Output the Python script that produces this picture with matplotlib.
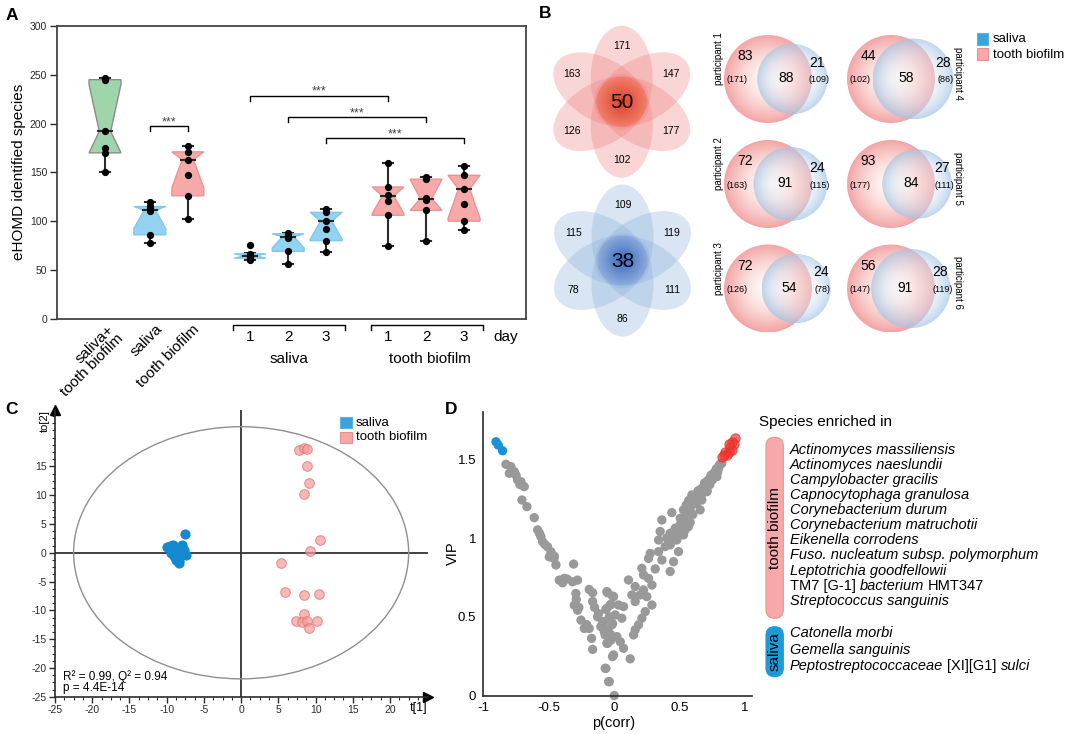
import numpy as np
import matplotlib
matplotlib.use('Agg')
import matplotlib.pyplot as plt
import matplotlib.colors as mcolors
import matplotlib.transforms as mtransforms
from matplotlib.patches import Ellipse, Circle, FancyBboxPatch, Rectangle, Polygon
from matplotlib.ticker import AutoMinorLocator

plt.rcParams['font.family'] = ['Liberation Sans', 'DejaVu Sans']
plt.rcParams['axes.unicode_minus'] = False

# ====================== DATA ======================
# ---- Panel A: eHOMD identified species ----
a_cat_labels = ['saliva+\ntooth biofilm', 'saliva', 'tooth biofilm']
a_day_labels = ['1', '2', '3']
a_group_labels = ['saliva', 'tooth biofilm']
a_kind = ['both', 'saliva', 'tooth', 'saliva', 'saliva', 'saliva', 'tooth', 'tooth', 'tooth']
a_points = [
    [247, 245, 192, 175, 170, 150],
    [120, 115, 113, 110, 86, 78],
    [177, 171, 163, 147, 126, 102],
    [76, 66, 65, 63, 62, 60],
    [88, 87, 85, 83, 69, 56],
    [112, 109, 100, 92, 80, 68],
    [160, 135, 127, 121, 106, 75],
    [145, 143, 124, 122, 111, 80],
    [156, 147, 133, 118, 100, 91],
]
a_q1 = [170, 86, 126, 62, 69, 80, 106, 111, 100]
a_med = [192, 111, 163, 64.5, 84, 100, 126, 123, 133]
a_q3 = [245, 115, 171, 66.5, 87, 109, 135, 143, 147]
a_lo = [150, 78, 102, 60, 56, 68, 75, 80, 91]
a_hi = [247, 120, 177, 67, 88, 112, 160, 145, 156]
a_sig_pairs = [(1, 2), (3, 6), (4, 7), (5, 8)]
a_sig_heights = [197, 228.5, 206.5, 185]
a_sig_text = '***'

# ---- Panel B: Venn diagrams ----
flower_tooth_petals = [171, 147, 177, 102, 126, 163]   # top, upper-right, lower-right, bottom, lower-left, upper-left
flower_tooth_core = 50
flower_saliva_petals = [109, 119, 111, 86, 78, 115]
flower_saliva_core = 38
venn_participants = ['participant 1', 'participant 2', 'participant 3',
                     'participant 4', 'participant 5', 'participant 6']
venn_tooth_only = [83, 72, 72, 44, 93, 56]
venn_shared = [88, 91, 54, 58, 84, 91]
venn_saliva_only = [21, 24, 24, 28, 27, 28]
legend_labels = ['saliva', 'tooth biofilm']

# ---- Panel C: OPLS-DA scores ----
c_saliva_t1 = [-7.5, -10.0, -9.2, -8.0, -7.9, -9.4, -9.0, -8.8, -8.4, -8.1, -7.4, -8.6, -9.6, -8.9, -8.3, -7.7, -9.1, -8.5]
c_saliva_to2 = [3.3, 1.0, 1.3, 1.3, 1.0, -0.1, -0.6, -1.2, -1.8, -0.4, -0.4, 0.3, 1.2, 0.8, -1.5, 0.5, 0.0, -0.9]
c_tooth_t1 = [7.8, 8.4, 8.9, 8.9, 9.1, 8.5, 10.6, 9.3, 5.3, 5.9, 8.5, 10.4, 8.4, 7.4, 8.2, 8.9, 10.2, 9.1]
c_tooth_to2 = [17.9, 18.2, 18.0, 15.1, 12.2, 10.2, 2.2, 0.3, -1.7, -6.8, -7.3, -7.1, -10.6, -11.8, -12.0, -11.8, -11.8, -13.0]
c_stats = ['R\u00b2 = 0.99, Q\u00b2 = 0.94', 'p = 4.4E-14']

# ---- Panel D: VIP vs p(corr) ----
d_gray = [
    (-0.827, 1.469), (-0.789, 1.454), (-0.801, 1.412), (-0.763, 1.422), (-0.738, 1.369), (-0.712, 1.358),
    (-0.687, 1.327), (-0.750, 1.400), (-0.720, 1.340), (-0.705, 1.242), (-0.667, 1.200), (-0.611, 1.130),
    (-0.585, 1.052), (-0.570, 1.030), (-0.560, 1.009), (-0.547, 0.977), (-0.530, 0.960), (-0.509, 0.945),
    (-0.483, 0.913), (-0.496, 0.881), (-0.458, 0.885), (-0.460, 0.870), (-0.445, 0.829), (-0.310, 0.835),
    (-0.420, 0.733), (-0.382, 0.744), (-0.394, 0.716), (-0.400, 0.730), (-0.360, 0.740), (-0.318, 0.722),
    (-0.280, 0.733), (-0.293, 0.648), (-0.290, 0.610), (-0.305, 0.574), (-0.280, 0.542), (-0.270, 0.560),
    (-0.191, 0.674), (-0.165, 0.653), (-0.165, 0.597), (-0.254, 0.479), (-0.229, 0.426), (-0.210, 0.450),
    (-0.191, 0.426), (-0.173, 0.363), (-0.165, 0.293), (-0.150, 0.560), (-0.127, 0.500), (-0.120, 0.520),
    (-0.102, 0.437), (-0.090, 0.460), (-0.076, 0.405), (-0.051, 0.653), (-0.013, 0.632), (-0.064, 0.547),
    (-0.025, 0.579), (-0.038, 0.500), (-0.013, 0.458), (-0.050, 0.420), (-0.030, 0.390), (-0.051, 0.331),
    (-0.025, 0.352), (-0.013, 0.247), (-0.064, 0.172), (-0.038, 0.088), (0.000, 0.000),
    (0.822, 1.475), (0.797, 1.443), (0.771, 1.422), (0.784, 1.390), (0.733, 1.380), (0.708, 1.359),
    (0.682, 1.327), (0.708, 1.295), (0.656, 1.284), (0.631, 1.252), (0.593, 1.274), (0.669, 1.242),
    (0.618, 1.221), (0.567, 1.231), (0.580, 1.200), (0.656, 1.179), (0.529, 1.179), (0.440, 1.162),
    (0.555, 1.147), (0.504, 1.126), (0.364, 1.115), (0.567, 1.073), (0.504, 1.084), (0.466, 1.063),
    (0.351, 1.042), (0.427, 1.031), (0.529, 1.020), (0.402, 1.000), (0.339, 0.988), (0.478, 0.988),
    (0.427, 0.957), (0.389, 0.946), (0.491, 0.914), (0.275, 0.903), (0.339, 0.914), (0.262, 0.871),
    (0.364, 0.861), (0.453, 0.850), (0.313, 0.804), (0.211, 0.808), (0.427, 0.788), (0.224, 0.766),
    (0.262, 0.744), (0.288, 0.702), (0.109, 0.734), (0.160, 0.692), (0.224, 0.671), (0.198, 0.639),
    (0.135, 0.639), (0.249, 0.628), (0.160, 0.597), (0.288, 0.575), (-0.056, 0.660), (-0.005, 0.628),
    (-0.030, 0.575), (0.033, 0.575), (-0.056, 0.554), (0.071, 0.565), (0.008, 0.512), (0.058, 0.491),
    (-0.081, 0.470), (-0.018, 0.449), (0.237, 0.533), (0.211, 0.491), (0.186, 0.449), (0.160, 0.417),
    (0.148, 0.385), (-0.069, 0.385), (0.020, 0.374), (-0.056, 0.332), (0.046, 0.342), (0.071, 0.300),
    (-0.005, 0.258), (0.122, 0.233), (-0.069, 0.173), (-0.043, 0.088),
    (0.620, 1.260), (0.640, 1.300), (0.660, 1.310), (0.690, 1.350), (0.720, 1.370), (0.740, 1.400),
    (0.760, 1.410), (0.780, 1.440), (0.800, 1.460), (0.810, 1.470), (0.600, 1.220), (0.580, 1.190),
    (0.550, 1.160), (0.530, 1.120), (0.520, 1.100), (0.500, 1.060), (0.480, 1.030), (0.460, 1.000),
    (0.440, 0.980), (0.550, 1.210), (0.570, 1.240), (0.610, 1.270), (0.630, 1.220), (0.650, 1.250),
    (0.670, 1.280), (0.700, 1.320), (0.710, 1.300), (0.730, 1.340), (0.750, 1.370), (0.770, 1.420),
    (0.790, 1.420), (0.600, 1.150), (0.580, 1.100), (0.560, 1.080), (0.540, 1.050), (0.520, 1.030),
]
d_red = [(0.924, 1.634), (0.898, 1.613), (0.911, 1.596), (0.886, 1.581), (0.898, 1.560), (0.873, 1.549),
         (0.847, 1.549), (0.860, 1.528), (0.835, 1.528), (0.822, 1.517), (0.880, 1.600)]
d_blue = [(-0.903, 1.612), (-0.886, 1.591), (-0.853, 1.555)]
d_tooth_species = [
    [('Actinomyces massiliensis', 'italic')],
    [('Actinomyces naeslundii', 'italic')],
    [('Campylobacter gracilis', 'italic')],
    [('Capnocytophaga granulosa', 'italic')],
    [('Corynebacterium durum', 'italic')],
    [('Corynebacterium matruchotii', 'italic')],
    [('Eikenella corrodens', 'italic')],
    [('Fuso. nucleatum subsp. polymorphum', 'italic')],
    [('Leptotrichia goodfellowii', 'italic')],
    [('TM7 [G-1]', 'normal'), ('bacterium', 'italic'), ('HMT347', 'normal')],
    [('Streptococcus sanguinis', 'italic')],
]
d_saliva_species = [
    [('Catonella morbi', 'italic')],
    [('Gemella sanguinis', 'italic')],
    [('Peptostreptococcaceae', 'italic'), ('[XI][G1]', 'normal'), ('sulci', 'italic')],
]

# ====================== FIGURE ======================
W, H = 1084, 734
fig = plt.figure(figsize=(W / 100, H / 100), dpi=100)


def rect(x0, y0, x1, y1):
    return [x0 / W, 1 - y1 / H, (x1 - x0) / W, (y1 - y0) / H]


SAL = '#3aa3dc'
TOO_F = '#f5a8a8'
TOO_E = '#ee8e8e'
DARK = '#2b2b2b'

# ---------------- Panel A ----------------
axA = fig.add_axes(rect(57, 26, 526, 318.7))
posA = [1.25, 2.43, 3.43, 5.07, 6.07, 7.07, 8.7, 9.7, 10.7]
fills = {'both': '#9fd5ab', 'saliva': '#93d2f0', 'tooth': '#f5a9a9'}
edges = {'both': '#8c8c8c', 'saliva': '#80c8ee', 'tooth': '#ee9292'}
hw, nw, cw = 0.42, 0.15, 0.14
for i, x in enumerate(posA):
    q1, med, q3, lo, hi = a_q1[i], a_med[i], a_q3[i], a_lo[i], a_hi[i]
    n = len(a_points[i])
    half = 1.57 * (q3 - q1) / np.sqrt(n)
    lo_n = min(max(med - half, q1), med)
    hi_n = max(min(med + half, q3), med)
    k = a_kind[i]
    axA.plot([x, x], [lo, hi], color=DARK, lw=1.5, zorder=1)
    axA.plot([x - cw, x + cw], [lo, lo], color=DARK, lw=1.5, zorder=1)
    axA.plot([x - cw, x + cw], [hi, hi], color=DARK, lw=1.5, zorder=1)
    verts = [(x - hw, q1), (x + hw, q1), (x + hw, lo_n), (x + nw, med), (x + hw, hi_n), (x + hw, q3),
             (x - hw, q3), (x - hw, hi_n), (x - nw, med), (x - hw, lo_n)]
    axA.add_patch(Polygon(verts, closed=True, facecolor=fills[k], edgecolor=edges[k], lw=1.0, zorder=2))
    axA.plot([x - nw - 0.03, x + nw + 0.03], [med, med], color=DARK, lw=1.5, zorder=3)
    axA.plot([x] * n, a_points[i], 'o', color='black', ms=4.2, zorder=4)

for (i, j), h in zip(a_sig_pairs, a_sig_heights):
    x1, x2 = posA[i], posA[j]
    axA.plot([x1, x1, x2, x2], [h - 5, h, h, h - 5], color='black', lw=1.0)
    axA.text((x1 + x2) / 2, h + 1, a_sig_text, ha='center', va='baseline', fontsize=9, color='#444444')

axA.set_xlim(-0.013, 12.33)
axA.set_ylim(0, 300)
axA.set_yticks(np.arange(0, 301, 50))
axA.set_xticks([])
axA.tick_params(axis='y', direction='out', length=5, width=1, labelsize=7.5, pad=2, colors=DARK)
for s in axA.spines.values():
    s.set_color('#444444')
    s.set_linewidth(1.3)
fig.text(19 / W, 1 - 172 / H, 'eHOMD identified species', rotation=90, ha='center', va='center', fontsize=11)

transA = mtransforms.blended_transform_factory(axA.transData, axA.transAxes)


def ya(py):
    return (318.7 - py) / 292.7


# rotated category labels
rot_anchor_px = [(107, 322), (155, 322), (192, 322)]
for lab, (px, py) in zip(a_cat_labels, rot_anchor_px):
    fig.text(px / W, 1 - py / H, lab, rotation=45, rotation_mode='anchor', ha='right', va='top',
             fontsize=11, multialignment='right', linespacing=0.95)

# day groups
for g, (i0, i1) in enumerate([(3, 5), (6, 8)]):
    xa, xb = posA[i0] - 0.45, posA[i1] + 0.5
    axA.plot([xa, xa, xb, xb], [ya(330), ya(325), ya(325), ya(330)], color='black', lw=1.0,
             transform=transA, clip_on=False)
    for k, lab in enumerate(a_day_labels):
        axA.text(posA[i0 + k], ya(337), lab, transform=transA, ha='center', va='center', fontsize=11)
    axA.text(posA[i0 + 1] + (0.1 if g == 1 else 0.03), ya(359), a_group_labels[g], transform=transA,
             ha='center', va='center', fontsize=11)
axA.text(11.47, ya(337), 'day', transform=transA, ha='left', va='center', fontsize=11)

# ---------------- Panel C ----------------
axC = fig.add_axes(rect(55, 410, 428, 696.7))
axC.set_xlim(-25, 25.1)
axC.set_ylim(-25, 24.8)
axC.spines['top'].set_visible(False)
axC.spines['right'].set_visible(False)
for s in ['left', 'bottom']:
    axC.spines[s].set_color(DARK)
    axC.spines[s].set_linewidth(1.2)
axC.set_xticks(np.arange(-25, 21, 5))
axC.set_yticks(np.arange(-25, 16, 5))
axC.xaxis.set_minor_locator(AutoMinorLocator(4))
axC.yaxis.set_minor_locator(AutoMinorLocator(4))
axC.tick_params(which='major', direction='out', length=4, width=1, labelsize=7.5, pad=2, colors=DARK)
axC.tick_params(which='minor', direction='out', length=2.5, width=0.8, colors=DARK)
axC.plot(1, 0, marker='>', color='black', ms=7, transform=axC.transAxes, clip_on=False)
axC.plot(0, 1, marker='^', color='black', ms=7, transform=axC.transAxes, clip_on=False)
axC.axhline(0, color='#333333', lw=1.3, zorder=1)
axC.axvline(0, color='#333333', lw=1.3, zorder=1)
axC.add_patch(Ellipse((0, 0), 45, 43.8, fill=False, edgecolor='#8f8f8f', lw=1.0, zorder=1))
axC.scatter(c_saliva_t1, c_saliva_to2, s=40, color='#1589cf', edgecolor='#1589cf', zorder=3)
axC.scatter(c_tooth_t1, c_tooth_to2, s=48, facecolor='#f39c9c', edgecolor='#e56e6e', alpha=0.7,
            linewidth=0.8, zorder=3)

# ---------------- Panel D ----------------
axD = fig.add_axes(rect(483.3, 411.7, 751.7, 695.5))
axD.set_xlim(-1, 1.05)
axD.set_ylim(0, 1.803)
axD.spines['top'].set_visible(False)
axD.spines['right'].set_visible(False)
for s in ['left', 'bottom']:
    axD.spines[s].set_color(DARK)
    axD.spines[s].set_linewidth(1.2)
axD.set_xticks([-1, -0.5, 0, 0.5, 1])
axD.set_xticklabels(['-1', '-0.5', '0', '0.5', '1'])
axD.set_yticks([0, 0.5, 1, 1.5])
axD.set_yticklabels(['0', '0.5', '1', '1.5'])
axD.tick_params(length=0, labelsize=9.5, pad=5)
gx, gy = zip(*d_gray)
axD.scatter(gx, gy, s=45, color='#999999', edgecolor='none', zorder=2, clip_on=False)
rx, ry = zip(*d_red)
axD.scatter(rx, ry, s=45, facecolor='#ef3b36', edgecolor='#e52f2a', alpha=0.7, lw=0.8, zorder=3, clip_on=False)
bx_, by_ = zip(*d_blue)
axD.scatter(bx_, by_, s=45, color='#1a90d8', edgecolor='none', zorder=3, clip_on=False)

# ---------------- Overlay (pixel coordinates) ----------------
ov = fig.add_axes([0, 0, 1, 1])
ov.set_axis_off()


def ftxt(x, y, s, **kw):
    kw.setdefault('ha', 'center')
    kw.setdefault('va', 'center')
    return ov.text(x, y, s, **kw)


def grad_circle(cx, cy, r, c_in, c_out, a_in, a_out, power=1.0, z=2):
    n = 160
    g = np.linspace(-1, 1, n)
    xx, yy = np.meshgrid(g, g)
    t = np.clip(np.hypot(xx, yy), 0, 1) ** power
    cin = np.array(mcolors.to_rgb(c_in))
    cout = np.array(mcolors.to_rgb(c_out))
    img = np.empty((n, n, 4))
    img[..., :3] = cin * (1 - t)[..., None] + cout * t[..., None]
    img[..., 3] = a_in * (1 - t) + a_out * t
    im = ov.imshow(img, extent=(cx - r, cx + r, cy + r, cy - r), interpolation='bilinear', zorder=z)
    im.set_clip_path(Circle((cx, cy), r, transform=ov.transData))
    return im


# Panel B flowers
petal_angles = [90, 30, -30, -90, -150, 150]


def flower(cx, cy, petals, core, pcol, palpha, core_in, core_out):
    for ang, val in zip(petal_angles, petals):
        th = np.deg2rad(ang)
        ov.add_patch(Ellipse((cx + 24 * np.cos(th), cy - 24 * np.sin(th)), 104, 62, angle=-ang,
                             facecolor=pcol, alpha=palpha, lw=0, zorder=2))
        ftxt(cx + 57 * np.cos(th), cy - 57 * np.sin(th) + 1, str(val), fontsize=7.5, zorder=6)
    grad_circle(cx, cy, 25, core_in, core_out, 0.95, 0.75, power=1.3, z=3)
    ftxt(cx, cy + 1, str(core), fontsize=15, zorder=6)


flower(621.7, 101.7, flower_tooth_petals, flower_tooth_core, '#f08080', 0.33, '#e0412b', '#f07a60')
flower(622.5, 260.5, flower_saliva_petals, flower_saliva_core, '#8cb0dc', 0.33, '#3c6bbf', '#8aa6da')

# Panel B pairwise venns
col_cx = [768, 768, 768, 891, 891, 891]
row_cy = [79, 184, 288.5, 79, 184, 288.5]
for i in range(6):
    t_tot = venn_tooth_only[i] + venn_shared[i]
    s_tot = venn_saliva_only[i] + venn_shared[i]
    pcx, cy = col_cx[i], row_cy[i]
    rp = 44
    rb = rp * np.sqrt(s_tot / t_tot)
    d = 47 - 44 * venn_shared[i] / t_tot
    bcx = pcx + d
    grad_circle(pcx, cy, rp, '#fffaf7', '#f29b9b', 0.9, 0.9, power=1.6, z=2)
    grad_circle(bcx, cy, rb, '#ffffff', '#a3c4e6', 0.2, 0.7, power=1.4, z=3)
    lens_c = ((bcx - rb) + (pcx + rp)) / 2
    ftxt(pcx - 23, cy - 23, str(venn_tooth_only[i]), fontsize=10, zorder=6)
    ftxt(pcx - 31, cy + 1, '(%d)' % t_tot, fontsize=6.5, zorder=6)
    ftxt(lens_c + 2, cy - 1, str(venn_shared[i]), fontsize=10, zorder=6)
    ftxt(bcx + rb - 10, cy - 16, str(venn_saliva_only[i]), fontsize=10, zorder=6)
    ftxt(bcx + rb - 8, cy + 1, '(%d)' % s_tot, fontsize=6.5, zorder=6)
    if i < 3:
        ftxt(719, cy - 20, venn_participants[i], rotation=90, fontsize=7, zorder=6)
    else:
        ftxt(958, cy - 6, venn_participants[i], rotation=270, fontsize=7, zorder=6)

# Panel B legend
ov.add_patch(Rectangle((977.3, 33.3), 11, 11.7, facecolor=SAL, edgecolor='#5ab4e6', lw=0.8, zorder=5))
ov.add_patch(Rectangle((977.3, 48.3), 11, 11.7, facecolor=TOO_F, edgecolor=TOO_E, lw=0.8, zorder=5))
ftxt(993, 39.5, legend_labels[0], ha='left', fontsize=9.5)
ftxt(993, 54.5, legend_labels[1], ha='left', fontsize=9.5)

# Panel C legend & texts
ov.add_patch(Rectangle((340, 417), 11.7, 11, facecolor=SAL, edgecolor='#5ab4e6', lw=0.8, zorder=5))
ov.add_patch(Rectangle((340, 431.7), 11.7, 11, facecolor=TOO_F, edgecolor=TOO_E, lw=0.8, zorder=5))
ftxt(356, 422.5, legend_labels[0], ha='left', fontsize=9.5)
ftxt(356, 437.2, legend_labels[1], ha='left', fontsize=9.5)
ftxt(63, 677, c_stats[0], ha='left', fontsize=8.5)
ftxt(63, 688.5, c_stats[1], ha='left', fontsize=8.5)
ftxt(419, 708.5, 't[1]', fontsize=9)
ftxt(44.5, 421, 'to[2]', rotation=90, fontsize=8)

# Panel D labels & legend
ftxt(453, 553, 'VIP', rotation=90, fontsize=10.5)
ftxt(614, 723, 'p(corr)', fontsize=10.5)
ftxt(759, 421.7, 'Species enriched in', ha='left', fontsize=11)
ov.add_patch(FancyBboxPatch((766, 437.3), 17.3, 181, boxstyle='round,pad=0,rounding_size=8.6',
                            facecolor='#f5a9a9', edgecolor='#f09090', lw=0.8, zorder=4))
ov.add_patch(FancyBboxPatch((766, 626.7), 17.3, 50, boxstyle='round,pad=0,rounding_size=8.6',
                            facecolor='#1d9ad8', edgecolor='#1d9ad8', lw=0.8, zorder=4))
ftxt(774.8, 528, 'tooth biofilm', rotation=90, fontsize=11, zorder=6)
ftxt(774.8, 652, 'saliva', rotation=90, fontsize=11, zorder=6)

renderer = fig.canvas.get_renderer()
SPACE = 0.278 * 10.5 * 100 / 72


def draw_line(x, y, segs, size=10.5):
    for k, (s, st) in enumerate(segs):
        t = ftxt(x, y, s, ha='left', fontsize=size, style=st, zorder=6)
        bb = t.get_window_extent(renderer)
        x += bb.width + SPACE


for i, segs in enumerate(d_tooth_species):
    draw_line(790, 450 + 15.07 * i, segs)
for i, segs in enumerate(d_saliva_species):
    draw_line(790, 633.3 + 16.35 * i, segs)

# panel letters
for lab, (x, y) in zip(['A', 'B', 'C', 'D'], [(12, 15), (545, 14), (12, 410), (451, 410)]):
    ftxt(x, y, lab, fontsize=12.5, fontweight='bold')

ov.set_xlim(0, W)
ov.set_ylim(H, 0)
ov.set_aspect('auto')

fig.savefig('out.png', dpi=100)
